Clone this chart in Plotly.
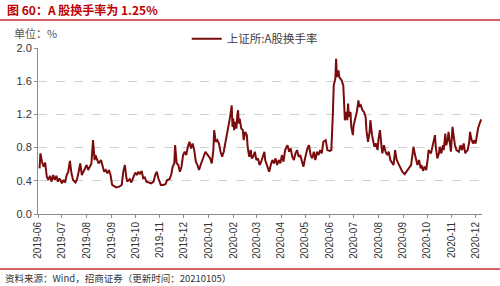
import plotly.graph_objects as go

dates = [
"2019-06-03","2019-06-04","2019-06-06","2019-06-08","2019-06-10","2019-06-12","2019-06-14","2019-06-16","2019-06-18","2019-06-20",
"2019-06-22","2019-06-24","2019-06-26","2019-06-28","2019-07-01","2019-07-03","2019-07-05","2019-07-07","2019-07-09","2019-07-11",
"2019-07-13","2019-07-15","2019-07-18","2019-07-20","2019-07-22","2019-07-24","2019-07-26","2019-07-28","2019-07-30","2019-08-01",
"2019-08-03","2019-08-05","2019-08-07","2019-08-09","2019-08-11","2019-08-12","2019-08-14","2019-08-16","2019-08-19","2019-08-21",
"2019-08-23","2019-08-25","2019-08-27","2019-08-29","2019-08-31","2019-09-02","2019-09-07","2019-09-11","2019-09-14","2019-09-16",
"2019-09-18","2019-09-20","2019-09-21","2019-09-24","2019-09-26","2019-09-29","2019-10-01","2019-10-03","2019-10-05","2019-10-07",
"2019-10-09","2019-10-11","2019-10-13","2019-10-15","2019-10-18","2019-10-21","2019-10-24","2019-10-26","2019-10-28","2019-10-30",
"2019-11-02","2019-11-05","2019-11-08","2019-11-10","2019-11-13","2019-11-15","2019-11-17","2019-11-19","2019-11-20","2019-11-22",
"2019-11-24","2019-11-26","2019-11-28","2019-11-30","2019-12-02","2019-12-04","2019-12-06","2019-12-08","2019-12-10","2019-12-12",
"2019-12-14","2019-12-16","2019-12-18","2019-12-20","2019-12-22","2019-12-24","2019-12-28","2019-12-31","2020-01-03","2020-01-05",
"2020-01-07","2020-01-08","2020-01-10","2020-01-12","2020-01-14","2020-01-16","2020-01-18","2020-01-20","2020-01-22","2020-01-24",
"2020-01-26","2020-01-28","2020-01-30","2020-01-31","2020-02-01","2020-02-02","2020-02-04","2020-02-05","2020-02-06","2020-02-07",
"2020-02-08","2020-02-09","2020-02-11","2020-02-13","2020-02-14","2020-02-16","2020-02-18","2020-02-19","2020-02-21","2020-02-23",
"2020-02-24","2020-02-26","2020-02-28","2020-03-01","2020-03-03","2020-03-05","2020-03-07","2020-03-09","2020-03-11","2020-03-12",
"2020-03-14","2020-03-17","2020-03-19","2020-03-21","2020-03-23","2020-03-25","2020-03-27","2020-03-29","2020-03-31","2020-04-02",
"2020-04-04","2020-04-06","2020-04-09","2020-04-11","2020-04-13","2020-04-15","2020-04-17","2020-04-19","2020-04-21","2020-04-23",
"2020-04-25","2020-04-27","2020-04-29","2020-05-01","2020-05-04","2020-05-06","2020-05-08","2020-05-10","2020-05-12","2020-05-14",
"2020-05-16","2020-05-18","2020-05-20","2020-05-22","2020-05-24","2020-05-27","2020-05-29","2020-06-01","2020-06-03","2020-06-05",
"2020-06-06","2020-06-08","2020-06-09","2020-06-10","2020-06-12","2020-06-13","2020-06-15","2020-06-16","2020-06-18","2020-06-19",
"2020-06-20","2020-06-22","2020-06-23","2020-06-24","2020-06-25","2020-06-27","2020-06-28","2020-06-30","2020-07-01","2020-07-03",
"2020-07-05","2020-07-07","2020-07-08","2020-07-10","2020-07-12","2020-07-14","2020-07-16","2020-07-17","2020-07-19","2020-07-21",
"2020-07-22","2020-07-24","2020-07-26","2020-07-27","2020-07-29","2020-07-31","2020-08-01","2020-08-03","2020-08-05","2020-08-06",
"2020-08-08","2020-08-10","2020-08-12","2020-08-14","2020-08-16","2020-08-18","2020-08-20","2020-08-22","2020-08-24","2020-08-26",
"2020-08-29","2020-08-31","2020-09-03","2020-09-05","2020-09-08","2020-09-11","2020-09-13","2020-09-14","2020-09-16","2020-09-18",
"2020-09-19","2020-09-21","2020-09-23","2020-09-24","2020-09-26","2020-09-28","2020-09-30","2020-10-02","2020-10-03","2020-10-06",
"2020-10-07","2020-10-09","2020-10-11","2020-10-12","2020-10-14","2020-10-16","2020-10-17","2020-10-19","2020-10-21","2020-10-22",
"2020-10-24","2020-10-25","2020-10-27","2020-10-28","2020-10-30","2020-10-31","2020-11-02","2020-11-04","2020-11-05","2020-11-07",
"2020-11-10","2020-11-12","2020-11-14","2020-11-16","2020-11-18","2020-11-19","2020-11-21","2020-11-23","2020-11-24","2020-11-26",
"2020-11-28","2020-11-29","2020-12-01","2020-12-03","2020-12-04","2020-12-06","2020-12-08",
]

turnover = [
0.55,0.73,0.63,0.57,0.62,0.45,0.41,0.46,0.39,0.47,
0.41,0.46,0.39,0.43,0.37,0.41,0.38,0.47,0.51,0.64,
0.49,0.41,0.38,0.42,0.51,0.61,0.47,0.51,0.55,0.59,
0.53,0.57,0.61,0.89,0.65,0.71,0.67,0.61,0.65,0.57,
0.51,0.53,0.49,0.53,0.47,0.35,0.32,0.33,0.35,0.51,
0.59,0.43,0.39,0.42,0.38,0.45,0.50,0.47,0.51,0.48,
0.52,0.43,0.44,0.39,0.38,0.37,0.39,0.47,0.51,0.43,
0.35,0.35,0.36,0.41,0.42,0.47,0.57,0.61,0.83,0.61,
0.59,0.51,0.57,0.71,0.75,0.71,0.81,0.87,0.79,0.85,
0.77,0.63,0.59,0.53,0.59,0.65,0.75,0.71,0.67,0.61,
0.77,1.01,0.87,0.89,0.85,0.75,0.69,0.75,0.85,0.97,
1.03,1.17,1.31,1.05,1.15,1.01,1.11,1.03,1.19,1.25,
1.09,1.15,1.03,1.01,0.89,0.99,0.95,0.81,0.69,0.77,
0.67,0.69,0.75,0.65,0.67,0.59,0.63,0.69,0.75,0.65,
0.59,0.51,0.59,0.65,0.61,0.67,0.59,0.65,0.61,0.71,
0.63,0.77,0.83,0.75,0.79,0.69,0.65,0.73,0.77,0.69,
0.71,0.63,0.57,0.67,0.79,0.83,0.71,0.67,0.75,0.65,
0.75,0.71,0.77,0.73,0.87,0.89,0.77,0.76,0.77,1.23,
1.55,1.63,1.87,1.65,1.73,1.65,1.63,1.61,1.55,1.39,
1.13,1.23,1.13,1.33,1.17,1.23,1.05,0.95,1.07,1.15,
1.23,1.37,1.29,1.31,1.25,1.23,1.17,1.01,0.87,0.99,
1.13,0.95,0.83,0.81,0.85,0.77,0.89,1.01,0.81,0.73,
0.83,0.75,0.71,0.75,0.65,0.61,0.59,0.77,0.65,0.61,
0.55,0.51,0.48,0.51,0.55,0.59,0.73,0.81,0.71,0.63,
0.59,0.65,0.55,0.59,0.52,0.57,0.53,0.67,0.77,0.73,
0.77,0.85,0.95,0.81,0.67,0.73,0.81,0.73,0.83,0.77,
0.97,0.83,0.89,0.99,0.81,0.75,1.05,0.87,0.83,0.77,
0.75,0.83,0.77,0.85,0.73,0.75,0.77,0.87,0.99,0.89,
0.85,0.89,0.85,0.97,1.03,1.09,1.14,
]

month_ticks = ["2019-06-01","2019-07-01","2019-08-01","2019-09-01","2019-10-01","2019-11-01",
               "2019-12-01","2020-01-01","2020-02-01","2020-03-01","2020-04-01","2020-05-01",
               "2020-06-01","2020-07-01","2020-08-01","2020-09-01","2020-10-01","2020-11-01","2020-12-01"]
month_labels = [d[:7] for d in month_ticks]
y_ticks = [0.0, 0.4, 0.8, 1.2, 1.6, 2.0]

title_text = "图 60：A 股换手率为 1.25%"
unit_text = "单位：%"
source_text = "资料来源：Wind，招商证券（更新时间：20210105）"
series_name = "上证所:A股换手率"

CJK = "Noto Sans CJK SC, sans-serif"
LAT = "Liberation Sans, Arial, sans-serif"

fig = go.Figure()
fig.add_trace(go.Scatter(x=dates, y=turnover, mode="lines", name=series_name,
                         line=dict(color="#7b0c0c", width=2)))

fig.update_layout(
    width=500, height=286,
    margin=dict(l=38, r=18, t=48, b=72),
    paper_bgcolor="white", plot_bgcolor="white",
    font=dict(family=LAT, size=11, color="#333333"),
    showlegend=True,
    legend=dict(orientation="h", x=0.335, y=1.055, xanchor="left", yanchor="middle",
                font=dict(family=CJK, size=11.5, color="#404040"),
                bgcolor="rgba(0,0,0,0)", itemwidth=30, tracegroupgap=0),
    xaxis=dict(type="date", range=["2019-06-01", "2020-12-09"],
               tickmode="array", tickvals=month_ticks, ticktext=month_labels,
               tickangle=-90, tickfont=dict(family=LAT, size=10, color="#333333"),
               showline=True, linecolor="#8c8c8c", linewidth=1,
               ticks="outside", ticklen=3, tickcolor="#8c8c8c",
               showgrid=False, zeroline=False),
    yaxis=dict(range=[0, 2.0], tickmode="array", tickvals=y_ticks,
               ticktext=[f"{v:.1f}" for v in y_ticks],
               tickfont=dict(family=LAT, size=11, color="#333333"),
               showline=True, linecolor="#8c8c8c", linewidth=1,
               ticks="outside", ticklen=3, tickcolor="#8c8c8c",
               showgrid=True, gridcolor="#d0d0d0", griddash="dash", gridwidth=1,
               zeroline=False),
)

# header / footer decorations
fig.add_annotation(text=f"<b>{title_text}</b>", xref="paper", yref="paper",
                   x=-0.0743, y=1.229, xanchor="left", yanchor="middle", showarrow=False,
                   font=dict(family=CJK, size=12, color="#c00000"))
fig.add_shape(type="line", xref="paper", yref="paper", x0=-0.0856, x1=1.0405,
              y0=1.1687, y1=1.1687, line=dict(color="#c9302c", width=1.5))
fig.add_annotation(text=unit_text, xref="paper", yref="paper",
                   x=-0.0586, y=1.090, xanchor="left", yanchor="middle", showarrow=False,
                   font=dict(family=CJK, size=11, color="#555555"))
fig.add_shape(type="line", xref="paper", yref="paper", x0=-0.0856, x1=1.0405,
              y0=-0.331, y1=-0.331, line=dict(color="#c9302c", width=1.5))
fig.add_annotation(text=source_text, xref="paper", yref="paper",
                   x=-0.0790, y=-0.3855, xanchor="left", yanchor="middle", showarrow=False,
                   font=dict(family=CJK, size=9.5, color="#333333"))

fig.write_html("out.html")
